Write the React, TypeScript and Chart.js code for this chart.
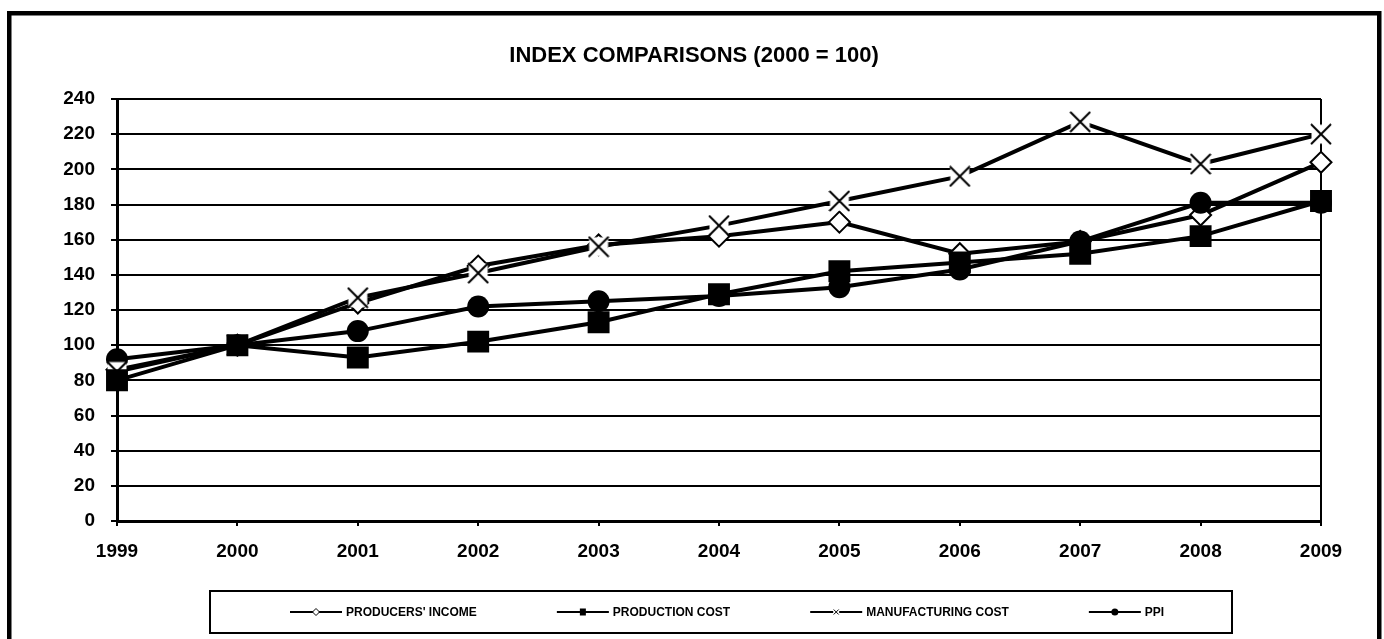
import React, { useEffect, useRef } from "react";
import { Chart, registerables } from "chart.js";

Chart.register(...registerables);

const TITLE = "INDEX COMPARISONS (2000 = 100)";
const years = ["1999", "2000", "2001", "2002", "2003", "2004", "2005", "2006", "2007", "2008", "2009"];
const seriesNames = ["PRODUCERS' INCOME", "PRODUCTION COST", "MANUFACTURING COST", "PPI"];
const producersIncome = [86, 100, 124, 145, 157, 162, 170, 152, 159, 174, 204];
const productionCost = [80, 100, 93, 102, 113, 129, 142, 147, 152, 162, 182];
const manufacturingCost = [85, 100, 127, 141, 156, 168, 182, 196, 227, 203, 220];
const ppi = [92, 100, 108, 122, 125, 128, 133, 143, 159, 181, 181];
const yMin = 0;
const yMax = 240;
const yStep = 20;

const FONT = "'Liberation Sans', Arial, sans-serif";

function makeXMarker(size: number, box: number, lw: number): HTMLCanvasElement {
  const c = document.createElement("canvas");
  c.width = size;
  c.height = size;
  const g = c.getContext("2d")!;
  g.fillStyle = "#ffffff";
  g.fillRect((size - box) / 2, (size - box) / 2, box, box);
  g.strokeStyle = "#000000";
  g.lineWidth = lw;
  g.beginPath();
  g.moveTo(1, 1);
  g.lineTo(size - 1, size - 1);
  g.moveTo(size - 1, 1);
  g.lineTo(1, size - 1);
  g.stroke();
  return c;
}

const framePlugin = {
  id: "framePlugin",
  beforeDraw(chart: any) {
    const ctx = chart.ctx;
    ctx.save();
    ctx.fillStyle = "#ffffff";
    ctx.fillRect(0, 0, chart.width, chart.height);
    ctx.strokeStyle = "#000000";
    ctx.lineWidth = 4.5;
    ctx.strokeRect(9.25, 13.25, 1370, 700);
    // title
    ctx.fillStyle = "#000";
    ctx.font = `bold 22px ${FONT}`;
    ctx.textAlign = "center";
    ctx.textBaseline = "middle";
    ctx.fillText(TITLE, 694, 56);
    ctx.restore();
  },
  beforeDatasetsDraw(chart: any) {
    const ctx = chart.ctx;
    const a = chart.chartArea;
    ctx.save();
    ctx.strokeStyle = "#000";
    ctx.lineWidth = 2;
    ctx.beginPath();
    ctx.moveTo(a.right, a.top);
    ctx.lineTo(a.right, a.bottom);
    ctx.stroke();
    ctx.restore();
  },
  afterDraw(chart: any) {
    const ctx = chart.ctx;
    ctx.save();
    // legend box
    const bx = 210, by = 591, bw = 1022, bh = 42;
    ctx.strokeStyle = "#000";
    ctx.lineWidth = 2;
    ctx.strokeRect(bx, by, bw, bh);
    ctx.font = `bold 12px ${FONT}`;
    ctx.textBaseline = "middle";
    ctx.textAlign = "left";
    const symW = 52;
    const gapSymText = 4;
    const gapItems = 80;
    const widths = chart.data.datasets.map((d: any) => symW + gapSymText + ctx.measureText(d.label).width);
    let x = bx + 80;
    const cy = by + bh / 2;
    chart.data.datasets.forEach((d: any, i: number) => {
      ctx.strokeStyle = "#000";
      ctx.lineWidth = 2;
      ctx.beginPath();
      ctx.moveTo(x, cy);
      ctx.lineTo(x + symW, cy);
      ctx.stroke();
      const mx = x + symW / 2;
      ctx.lineWidth = 1;
      if (i === 0) {
        ctx.fillStyle = "#fff";
        ctx.beginPath();
        ctx.moveTo(mx, cy - 3.5);
        ctx.lineTo(mx + 3.5, cy);
        ctx.lineTo(mx, cy + 3.5);
        ctx.lineTo(mx - 3.5, cy);
        ctx.closePath();
        ctx.fill();
        ctx.stroke();
      } else if (i === 1) {
        ctx.fillStyle = "#000";
        ctx.fillRect(mx - 3, cy - 3.5, 6, 7);
      } else if (i === 2) {
        ctx.fillStyle = "#fff";
        ctx.fillRect(mx - 3, cy - 3, 6, 6);
        ctx.beginPath();
        ctx.moveTo(mx - 2.5, cy - 2.5);
        ctx.lineTo(mx + 2.5, cy + 2.5);
        ctx.moveTo(mx + 2.5, cy - 2.5);
        ctx.lineTo(mx - 2.5, cy + 2.5);
        ctx.stroke();
      } else {
        ctx.fillStyle = "#000";
        ctx.beginPath();
        ctx.arc(mx, cy, 3.5, 0, Math.PI * 2);
        ctx.fill();
      }
      ctx.fillStyle = "#000";
      ctx.fillText(d.label, x + symW + gapSymText, cy + 0.5);
      x += widths[i] + gapItems;
    });
    ctx.restore();
  },
};

export default function App() {
  const ref = useRef<HTMLCanvasElement | null>(null);
  useEffect(() => {
    if (!ref.current) return;
    const xMarker = makeXMarker(22, 19, 2);
    const chart = new Chart(ref.current, {
      type: "line",
      data: {
        labels: years,
        datasets: [
          {
            label: seriesNames[0],
            data: producersIncome,
            borderColor: "#000",
            borderWidth: 4,
            pointStyle: "rectRot",
            pointRadius: 10.5,
            pointBackgroundColor: "#fff",
            pointBorderColor: "#000",
            pointBorderWidth: 2,
            tension: 0,
            order: 3,
          },
          {
            label: seriesNames[1],
            data: productionCost,
            borderColor: "#000",
            borderWidth: 4,
            pointStyle: "rect",
            pointRadius: 15.5,
            pointBackgroundColor: "#000",
            pointBorderColor: "#000",
            pointBorderWidth: 0,
            tension: 0,
            order: 0,
          },
          {
            label: seriesNames[2],
            data: manufacturingCost,
            borderColor: "#000",
            borderWidth: 4,
            pointStyle: xMarker as any,
            pointRadius: 11,
            tension: 0,
            order: 1,
          },
          {
            label: seriesNames[3],
            data: ppi,
            borderColor: "#000",
            borderWidth: 4,
            pointStyle: "circle",
            pointRadius: 11,
            pointBackgroundColor: "#000",
            pointBorderColor: "#000",
            pointBorderWidth: 0,
            tension: 0,
            order: 2,
          },
        ],
      },
      options: {
        animation: false,
        responsive: false,
        events: [],
        layout: { padding: { left: 0, top: 99, right: 63, bottom: 0 } },
        plugins: {
          legend: { display: false },
          title: { display: false },
          tooltip: { enabled: false },
        },
        scales: {
          x: {
            type: "category",
            offset: false,
            border: { display: true, color: "#000", width: 3 },
            grid: {
              drawOnChartArea: false,
              drawTicks: true,
              tickLength: 5,
              color: "#000",
              lineWidth: 2,
            },
            ticks: {
              color: "#000",
              font: { family: FONT, size: 19, weight: "bold" },
              padding: 14,
              maxRotation: 0,
              autoSkip: false,
            },
            afterFit(scale: any) {
              scale.height = 118;
            },
          },
          y: {
            min: yMin,
            max: yMax,
            border: { display: true, color: "#000", width: 3 },
            grid: {
              color: "#000",
              lineWidth: 2,
              drawTicks: true,
              tickLength: 6,
            },
            ticks: {
              stepSize: yStep,
              color: "#000",
              font: { family: FONT, size: 19, weight: "bold" },
              padding: 16,
            },
            afterFit(scale: any) {
              scale.width = 117;
            },
          },
        },
      },
      plugins: [framePlugin],
    });
    return () => chart.destroy();
  }, []);
  return (
    <div style={{ position: "fixed", left: 0, top: 0, width: 1384, height: 639, background: "#fff" }}>
      <canvas ref={ref} width={1384} height={639} style={{ display: "block" }} />
    </div>
  );
}
